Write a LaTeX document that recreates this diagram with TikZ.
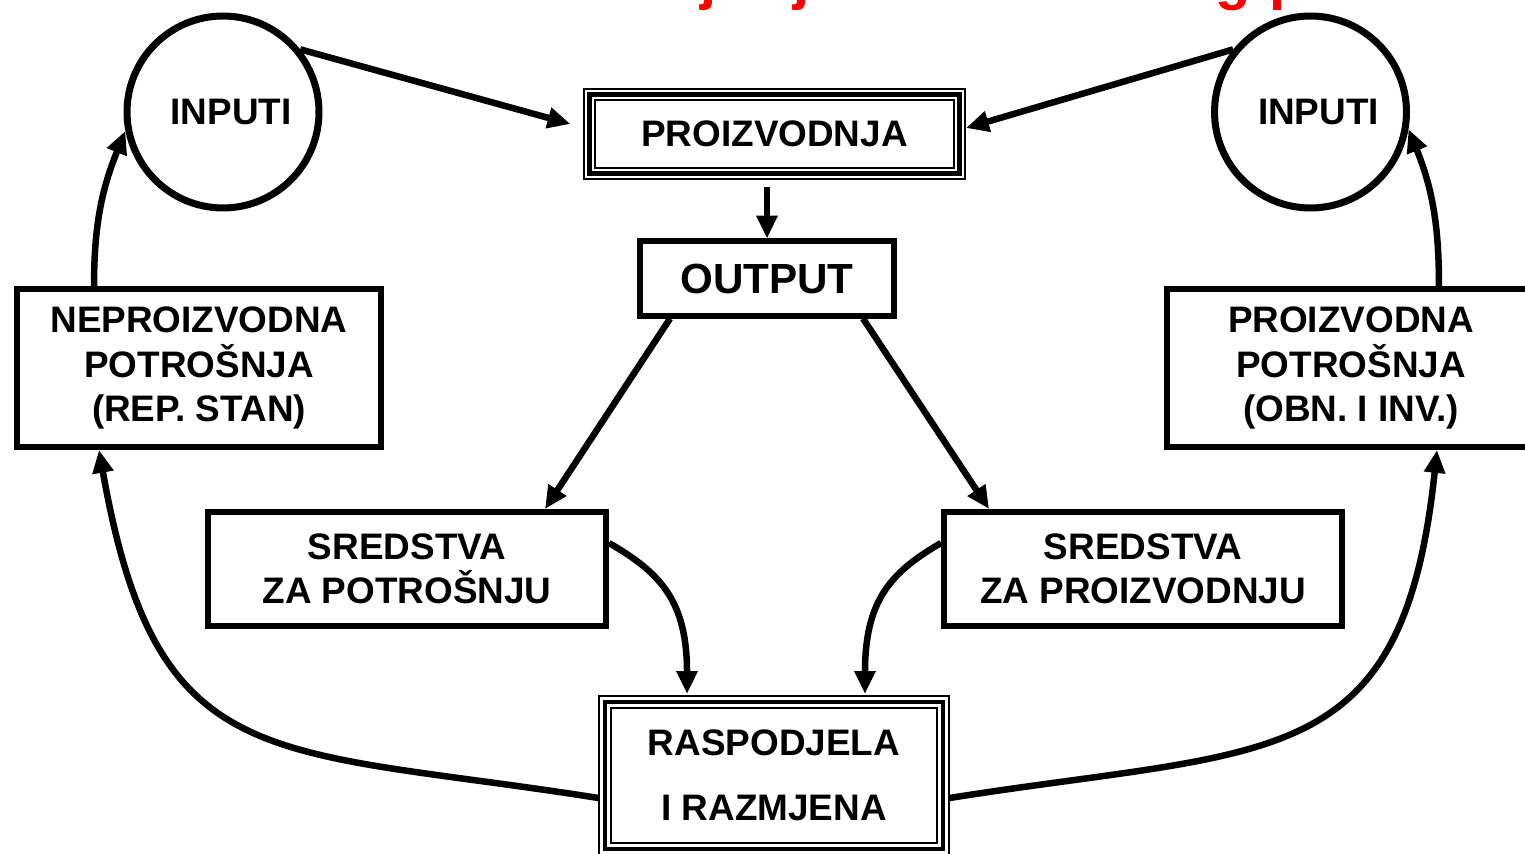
\documentclass[tikz,border=0pt]{standalone}
\usepackage{fontspec}
\setmainfont{Liberation Sans}
\usetikzlibrary{arrows.meta}

\begin{document}
\begin{tikzpicture}[x=0.02cm,y=-0.02cm,
    >={Triangle[length=13pt,width=11.5pt]},
    box/.style={draw,line width=3.4pt,inner sep=0pt,align=center,
      font=\fontsize{21}{25.3}\selectfont\bfseries},
    tribox/.style={box,line width=7.5pt,
      postaction={draw=white,line width=1.3pt,double=black,double distance=2.6pt}},
    inp/.style={circle,draw,line width=4pt,minimum size=3.84cm,inner sep=0pt,
      font=\fontsize{21}{25.3}\selectfont\bfseries},
    arr/.style={->,line width=3.7pt}]
    \useasboundingbox (0,0) rectangle (1525,854);
    \clip (0,0) rectangle (1525,854);
    \foreach \ch/\px [count=\i] in {j/700,j/793,g/1215,p/1269}
      \node[red,anchor=base west,inner sep=0pt,font=\fontsize{33}{33}\selectfont\bfseries] (ttl\i) at (\px,-1) {\ch};
    \node[inp] (inL) at (223,112) {\hspace*{0.32cm}INPUTI};
    \node[inp] (inR) at (1310.5,112) {\hspace*{0.32cm}INPUTI};
    \node[tribox,minimum width=7.4cm,minimum height=1.59cm] (proiz) at (774.5,134) {PROIZVODNJA};
    \node[box,line width=2.9pt,minimum width=5.08cm,minimum height=1.5cm,
      font=\fontsize{24}{29}\selectfont\bfseries] (output) at (767,278.5) {OUTPUT};
    \node[box,minimum width=7.3cm,minimum height=3.16cm] (neproiz) at (199,368) {NEPROIZVODNA\\POTROŠNJA\\(REP. STAN)};
    \node[box,minimum width=7.36cm,minimum height=3.16cm] (proizP) at (1351,368) {PROIZVODNA\\POTROŠNJA\\(OBN. I INV.)};
    \node[box,minimum width=7.96cm,minimum height=2.28cm] (sredP) at (407,569) {SREDSTVA\\ZA POTROŠNJU};
    \node[box,minimum width=7.96cm,minimum height=2.28cm] (sredZ) at (1143,569) {SREDSTVA\\ZA PROIZVODNJU};
    \node[tribox,minimum width=6.76cm,minimum height=2.94cm] (rasp) at (774,775.5) {RASPODJELA\\[12pt]I RAZMJENA};
    \path[arr] (inL.39) edge ([xshift=-0.25cm,yshift=0.2cm]proiz.west)
      (inR.141) edge ([yshift=0.12cm]proiz.east)
      (output.north |- proiz.south) edge[shorten <=0.14cm] (output.north)
      ([xshift=-1.94cm]output.south) edge ([xshift=2.76cm]sredP.north)
      ([xshift=1.92cm]output.south) edge ([xshift=-3.08cm]sredZ.north)
      ([yshift=0.52cm]sredP.east) edge[out=-30,in=90,out looseness=0.9,in looseness=1.4] ([xshift=-1.74cm,yshift=0.03cm]rasp.north)
      ([yshift=0.52cm]sredZ.west) edge[out=210,in=90,out looseness=0.9,in looseness=1.4] ([xshift=1.82cm,yshift=0.03cm]rasp.north)
      ([yshift=-0.45cm]rasp.west) edge[out=171,in=-80,looseness=1.4] ([xshift=-2cm]neproiz.south)
      ([yshift=-0.45cm]rasp.east) edge[out=9,in=-96,looseness=1.4] ([xshift=1.72cm]proizP.south)
      ([xshift=-2.1cm]neproiz.north) edge[out=90,in=-112] (inL.191)
      ([xshift=1.76cm]proizP.north) edge[out=90,in=-68] (inR.-10);
\end{tikzpicture}
\end{document}
